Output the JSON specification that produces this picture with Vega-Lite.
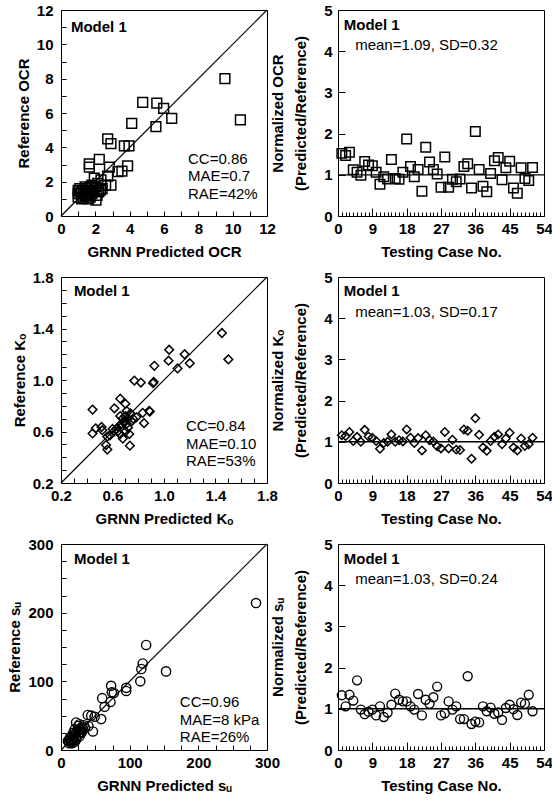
{
  "$schema": "https://vega.github.io/schema/vega-lite/v6.json",
  "padding": {"left": 7, "top": 2, "right": 0, "bottom": 5},
  "background": "white",
  "columns": 2,
  "spacing": {"row": 61, "column": 71},
  "bounds": "flush",
  "datasets": {
    "ocr": [
      {"pred": 9.55, "ref": 8.0}, {"pred": 10.45, "ref": 5.6}, {"pred": 4.76, "ref": 6.62}, {"pred": 5.58, "ref": 6.58},
      {"pred": 5.98, "ref": 6.27}, {"pred": 6.45, "ref": 5.69}, {"pred": 4.12, "ref": 5.4}, {"pred": 5.53, "ref": 5.2},
      {"pred": 2.72, "ref": 4.49}, {"pred": 2.91, "ref": 4.22}, {"pred": 3.69, "ref": 4.08}, {"pred": 3.96, "ref": 4.08},
      {"pred": 2.23, "ref": 3.3}, {"pred": 1.65, "ref": 3.03}, {"pred": 1.65, "ref": 2.84}, {"pred": 2.82, "ref": 2.84},
      {"pred": 3.88, "ref": 2.92}, {"pred": 3.32, "ref": 2.58}, {"pred": 3.55, "ref": 2.62}, {"pred": 2.72, "ref": 2.33},
      {"pred": 2.91, "ref": 1.8}, {"pred": 1.94, "ref": 2.2}, {"pred": 2.33, "ref": 2.1}, {"pred": 2.14, "ref": 1.9},
      {"pred": 2.04, "ref": 0.93}, {"pred": 1.0, "ref": 1.5}, {"pred": 1.1, "ref": 1.3}, {"pred": 1.0, "ref": 1.1},
      {"pred": 1.2, "ref": 1.0}, {"pred": 1.3, "ref": 1.5}, {"pred": 1.4, "ref": 1.2}, {"pred": 1.5, "ref": 1.6},
      {"pred": 1.6, "ref": 1.4}, {"pred": 1.7, "ref": 1.7}, {"pred": 1.8, "ref": 1.3}, {"pred": 1.9, "ref": 1.5},
      {"pred": 2.0, "ref": 1.7}, {"pred": 2.2, "ref": 1.4}, {"pred": 2.4, "ref": 1.6}, {"pred": 1.1, "ref": 1.6},
      {"pred": 1.3, "ref": 1.1}, {"pred": 1.5, "ref": 1.2}, {"pred": 1.8, "ref": 1.8}, {"pred": 2.6, "ref": 1.8},
      {"pred": 1.2, "ref": 1.4}, {"pred": 1.7, "ref": 1.1}, {"pred": 2.1, "ref": 1.2}, {"pred": 2.3, "ref": 1.5},
      {"pred": 1.4, "ref": 1.7}, {"pred": 1.0, "ref": 1.3}, {"pred": 1.6, "ref": 1.0}
    ],
    "ocrN": [
      {"case": 1, "norm": 1.52}, {"case": 2, "norm": 1.47}, {"case": 3, "norm": 1.55}, {"case": 4, "norm": 1.12},
      {"case": 5, "norm": 1.06}, {"case": 6, "norm": 0.99}, {"case": 7, "norm": 1.32}, {"case": 8, "norm": 1.24},
      {"case": 9, "norm": 1.22}, {"case": 10, "norm": 1.06}, {"case": 11, "norm": 0.77}, {"case": 12, "norm": 0.95},
      {"case": 13, "norm": 0.9}, {"case": 14, "norm": 1.37}, {"case": 15, "norm": 0.91}, {"case": 16, "norm": 0.89},
      {"case": 17, "norm": 1.06}, {"case": 18, "norm": 1.87}, {"case": 19, "norm": 1.2}, {"case": 20, "norm": 0.95},
      {"case": 21, "norm": 1.13}, {"case": 22, "norm": 0.6}, {"case": 23, "norm": 1.67}, {"case": 24, "norm": 1.31},
      {"case": 25, "norm": 1.13}, {"case": 26, "norm": 1.02}, {"case": 27, "norm": 0.7}, {"case": 28, "norm": 1.43},
      {"case": 29, "norm": 0.7}, {"case": 30, "norm": 0.89}, {"case": 31, "norm": 0.83}, {"case": 32, "norm": 0.9},
      {"case": 33, "norm": 1.2}, {"case": 34, "norm": 1.27}, {"case": 35, "norm": 0.68}, {"case": 36, "norm": 2.05},
      {"case": 37, "norm": 1.13}, {"case": 38, "norm": 0.72}, {"case": 39, "norm": 0.59}, {"case": 40, "norm": 1.03},
      {"case": 41, "norm": 1.34}, {"case": 42, "norm": 1.42}, {"case": 43, "norm": 0.88}, {"case": 44, "norm": 1.17},
      {"case": 45, "norm": 1.33}, {"case": 46, "norm": 0.68}, {"case": 47, "norm": 0.55}, {"case": 48, "norm": 1.17},
      {"case": 49, "norm": 0.91}, {"case": 50, "norm": 0.86}, {"case": 51, "norm": 1.18}
    ],
    "ko": [
      {"pred": 1.45, "ref": 1.365}, {"pred": 1.5, "ref": 1.16}, {"pred": 1.04, "ref": 1.235}, {"pred": 1.035, "ref": 1.15},
      {"pred": 1.16, "ref": 1.2}, {"pred": 1.105, "ref": 1.09}, {"pred": 1.2, "ref": 1.13}, {"pred": 0.925, "ref": 1.11},
      {"pred": 0.915, "ref": 0.975}, {"pred": 0.92, "ref": 0.985}, {"pred": 0.77, "ref": 0.995}, {"pred": 0.82, "ref": 0.98},
      {"pred": 0.66, "ref": 0.855}, {"pred": 0.7, "ref": 0.815}, {"pred": 0.615, "ref": 0.78}, {"pred": 0.445, "ref": 0.77},
      {"pred": 0.885, "ref": 0.76}, {"pred": 0.89, "ref": 0.755}, {"pred": 0.835, "ref": 0.745}, {"pred": 0.71, "ref": 0.76},
      {"pred": 0.845, "ref": 0.665}, {"pred": 0.785, "ref": 0.71}, {"pred": 0.47, "ref": 0.625}, {"pred": 0.515, "ref": 0.635},
      {"pred": 0.445, "ref": 0.585}, {"pred": 0.56, "ref": 0.56}, {"pred": 0.55, "ref": 0.495}, {"pred": 0.56, "ref": 0.46},
      {"pred": 0.735, "ref": 0.49}, {"pred": 0.68, "ref": 0.545}, {"pred": 0.61, "ref": 0.6}, {"pred": 0.63, "ref": 0.62},
      {"pred": 0.65, "ref": 0.64}, {"pred": 0.67, "ref": 0.66}, {"pred": 0.69, "ref": 0.68}, {"pred": 0.7, "ref": 0.72},
      {"pred": 0.72, "ref": 0.7}, {"pred": 0.74, "ref": 0.74}, {"pred": 0.76, "ref": 0.7}, {"pred": 0.66, "ref": 0.58},
      {"pred": 0.7, "ref": 0.6}, {"pred": 0.72, "ref": 0.63}, {"pred": 0.68, "ref": 0.7}, {"pred": 0.64, "ref": 0.6},
      {"pred": 0.75, "ref": 0.68}, {"pred": 0.6, "ref": 0.62}, {"pred": 0.71, "ref": 0.66}, {"pred": 0.73, "ref": 0.58},
      {"pred": 0.66, "ref": 0.72}, {"pred": 0.52, "ref": 0.61}, {"pred": 0.58, "ref": 0.57}
    ],
    "koN": [
      {"case": 1, "norm": 1.16}, {"case": 2, "norm": 1.14}, {"case": 3, "norm": 1.24}, {"case": 4, "norm": 1.02},
      {"case": 5, "norm": 1.12}, {"case": 6, "norm": 1.0}, {"case": 7, "norm": 1.29}, {"case": 8, "norm": 1.13},
      {"case": 9, "norm": 1.1}, {"case": 10, "norm": 1.02}, {"case": 11, "norm": 0.83}, {"case": 12, "norm": 0.97},
      {"case": 13, "norm": 1.0}, {"case": 14, "norm": 1.18}, {"case": 15, "norm": 1.0}, {"case": 16, "norm": 1.04},
      {"case": 17, "norm": 1.01}, {"case": 18, "norm": 1.3}, {"case": 19, "norm": 1.1}, {"case": 20, "norm": 0.97},
      {"case": 21, "norm": 1.09}, {"case": 22, "norm": 0.79}, {"case": 23, "norm": 1.16}, {"case": 24, "norm": 1.04},
      {"case": 25, "norm": 1.01}, {"case": 26, "norm": 0.89}, {"case": 27, "norm": 0.84}, {"case": 28, "norm": 1.24},
      {"case": 29, "norm": 0.84}, {"case": 30, "norm": 1.05}, {"case": 31, "norm": 0.81}, {"case": 32, "norm": 0.8},
      {"case": 33, "norm": 1.3}, {"case": 34, "norm": 1.27}, {"case": 35, "norm": 0.59}, {"case": 36, "norm": 1.57},
      {"case": 37, "norm": 1.17}, {"case": 38, "norm": 0.86}, {"case": 39, "norm": 0.78}, {"case": 40, "norm": 1.02},
      {"case": 41, "norm": 1.12}, {"case": 42, "norm": 1.18}, {"case": 43, "norm": 0.94}, {"case": 44, "norm": 1.08},
      {"case": 45, "norm": 1.22}, {"case": 46, "norm": 0.86}, {"case": 47, "norm": 0.79}, {"case": 48, "norm": 1.08},
      {"case": 49, "norm": 0.9}, {"case": 50, "norm": 0.94}, {"case": 51, "norm": 1.1}
    ],
    "su": [
      {"pred": 284, "ref": 214}, {"pred": 124, "ref": 153}, {"pred": 119, "ref": 126}, {"pred": 117, "ref": 118},
      {"pred": 115.5, "ref": 100}, {"pred": 153, "ref": 114.5}, {"pred": 95, "ref": 90.5}, {"pred": 95, "ref": 86},
      {"pred": 73, "ref": 93.5}, {"pred": 74, "ref": 84}, {"pred": 77, "ref": 83}, {"pred": 72, "ref": 70},
      {"pred": 60, "ref": 75.5}, {"pred": 63.5, "ref": 63}, {"pred": 58.5, "ref": 45}, {"pred": 46.5, "ref": 27},
      {"pred": 39, "ref": 51}, {"pred": 44, "ref": 50}, {"pred": 49, "ref": 48.5}, {"pred": 22, "ref": 40},
      {"pred": 27, "ref": 37.5}, {"pred": 25, "ref": 35}, {"pred": 30, "ref": 33}, {"pred": 20, "ref": 30},
      {"pred": 18, "ref": 25}, {"pred": 15, "ref": 20}, {"pred": 12, "ref": 15}, {"pred": 14, "ref": 12},
      {"pred": 18, "ref": 14}, {"pred": 22, "ref": 18}, {"pred": 25, "ref": 22}, {"pred": 28, "ref": 26},
      {"pred": 32, "ref": 30}, {"pred": 16, "ref": 10}, {"pred": 20, "ref": 12}, {"pred": 10, "ref": 13},
      {"pred": 24, "ref": 28}, {"pred": 35, "ref": 32}, {"pred": 27, "ref": 20}, {"pred": 13, "ref": 18},
      {"pred": 19, "ref": 21}, {"pred": 30, "ref": 25}, {"pred": 22, "ref": 15}, {"pred": 17, "ref": 16},
      {"pred": 26, "ref": 30}, {"pred": 33, "ref": 36}, {"pred": 12, "ref": 10}, {"pred": 21, "ref": 24},
      {"pred": 29, "ref": 29}, {"pred": 40, "ref": 35}, {"pred": 15, "ref": 14}
    ],
    "suN": [
      {"case": 1, "norm": 1.33}, {"case": 2, "norm": 1.06}, {"case": 3, "norm": 1.34}, {"case": 4, "norm": 1.2},
      {"case": 5, "norm": 1.69}, {"case": 6, "norm": 0.98}, {"case": 7, "norm": 0.87}, {"case": 8, "norm": 0.93},
      {"case": 9, "norm": 0.98}, {"case": 10, "norm": 0.84}, {"case": 11, "norm": 1.06}, {"case": 12, "norm": 0.8},
      {"case": 13, "norm": 0.91}, {"case": 14, "norm": 1.1}, {"case": 15, "norm": 1.37}, {"case": 16, "norm": 1.22},
      {"case": 17, "norm": 1.18}, {"case": 18, "norm": 1.18}, {"case": 19, "norm": 1.06}, {"case": 20, "norm": 0.98},
      {"case": 21, "norm": 1.36}, {"case": 22, "norm": 0.84}, {"case": 23, "norm": 1.22}, {"case": 24, "norm": 1.12},
      {"case": 25, "norm": 1.28}, {"case": 26, "norm": 1.54}, {"case": 27, "norm": 0.84}, {"case": 28, "norm": 0.89},
      {"case": 29, "norm": 1.18}, {"case": 30, "norm": 0.98}, {"case": 31, "norm": 1.06}, {"case": 32, "norm": 0.75},
      {"case": 33, "norm": 0.75}, {"case": 34, "norm": 1.79}, {"case": 35, "norm": 0.63}, {"case": 36, "norm": 0.69},
      {"case": 37, "norm": 0.67}, {"case": 38, "norm": 1.06}, {"case": 39, "norm": 0.94}, {"case": 40, "norm": 1.03},
      {"case": 41, "norm": 0.88}, {"case": 42, "norm": 0.91}, {"case": 43, "norm": 0.73}, {"case": 44, "norm": 1.02},
      {"case": 45, "norm": 1.1}, {"case": 46, "norm": 0.99}, {"case": 47, "norm": 0.85}, {"case": 48, "norm": 1.15},
      {"case": 49, "norm": 1.12}, {"case": 50, "norm": 1.34}, {"case": 51, "norm": 0.94}
    ]
  },
  "concat": [
    {
      "width": 206, "height": 206,
      "resolve": {"axis": {"x": "independent", "y": "independent"}},
      "layer": [
        {"data": {"name": "ocr"}, "mark": {"type": "point", "shape": "square", "filled": false, "stroke": "black", "strokeWidth": 1.5, "size": 95, "opacity": 1},
         "encoding": {
           "x": {"field": "pred", "type": "quantitative", "scale": {"domain": [0, 12], "nice": false, "zero": false},
                 "axis": {"orient": "bottom", "title": "GRNN Predicted OCR", "values": [0,1,2,3,4,5,6,7,8,9,10,11,12], "labelExpr": "datum.value % 2 == 0 ? datum.label : ''", "offset": -5, "tickSize": 5, "labelPadding": 5}},
           "y": {"field": "ref", "type": "quantitative", "scale": {"domain": [0, 12], "nice": false, "zero": false},
                 "axis": {"orient": "left", "title": "Reference OCR", "values": [0,1,2,3,4,5,6,7,8,9,10,11,12], "labelExpr": "datum.value % 2 == 0 ? datum.label : ''", "offset": -5, "tickSize": 5, "labelPadding": 8}}
         }},
        {"data": {"values": [{"pred": 0, "ref": 0}, {"pred": 12, "ref": 12}]}, "mark": {"type": "line", "color": "black", "strokeWidth": 1.2},
         "encoding": {"x": {"field": "pred", "type": "quantitative", "axis": null}, "y": {"field": "ref", "type": "quantitative", "axis": null}}},
        {"data": {"values": [{"t": "Model 1"}]}, "mark": {"type": "text", "align": "left", "baseline": "middle", "fontWeight": "bold", "fontSize": 15, "color": "black"},
         "encoding": {"text": {"field": "t"}, "x": {"datum": 0.58, "axis": null}, "y": {"datum": 11.0, "axis": null}}},
        {"data": {"values": [{"t": "CC=0.86"}]}, "mark": {"type": "text", "align": "left", "baseline": "middle", "fontSize": 15, "color": "black"},
         "encoding": {"text": {"field": "t"}, "x": {"datum": 7.4, "axis": null}, "y": {"datum": 3.32, "axis": null}}},
        {"data": {"values": [{"t": "MAE=0.7"}]}, "mark": {"type": "text", "align": "left", "baseline": "middle", "fontSize": 15, "color": "black"},
         "encoding": {"text": {"field": "t"}, "x": {"datum": 7.4, "axis": null}, "y": {"datum": 2.33, "axis": null}}},
        {"data": {"values": [{"t": "RAE=42%"}]}, "mark": {"type": "text", "align": "left", "baseline": "middle", "fontSize": 15, "color": "black"},
         "encoding": {"text": {"field": "t"}, "x": {"datum": 7.4, "axis": null}, "y": {"datum": 1.3, "axis": null}}}
      ]
    },
    {
      "width": 206, "height": 206,
      "resolve": {"axis": {"x": "independent", "y": "independent"}},
      "layer": [
        {"data": {"name": "ocrN"}, "mark": {"type": "point", "shape": "square", "filled": false, "stroke": "black", "strokeWidth": 1.5, "size": 90, "opacity": 1},
         "encoding": {
           "x": {"field": "case", "type": "quantitative", "scale": {"domain": [0, 54], "nice": false, "zero": false},
                 "axis": {"orient": "bottom", "title": "Testing Case No.", "values": [0,1,2,3,4,5,6,7,8,9,10,11,12,13,14,15,16,17,18,19,20,21,22,23,24,25,26,27,28,29,30,31,32,33,34,35,36,37,38,39,40,41,42,43,44,45,46,47,48,49,50,51,52,53,54], "labelExpr": "datum.value % 9 == 0 ? datum.label : ''", "offset": -4, "tickSize": 4, "labelPadding": 5}},
           "y": {"field": "norm", "type": "quantitative", "scale": {"domain": [0, 5], "nice": false, "zero": false},
                 "axis": {"orient": "left", "title": ["Normalized OCR", "(Predicted/Reference)"], "titleLineHeight": 23, "titlePadding": 15, "values": [0,1,2,3,4,5], "offset": -7, "tickSize": 7, "labelPadding": 6}}
         }},
        {"data": {"values": [{"case": 0, "norm": 1}, {"case": 54, "norm": 1}]}, "mark": {"type": "line", "color": "black", "strokeWidth": 1.2},
         "encoding": {"x": {"field": "case", "type": "quantitative", "axis": {"orient": "bottom", "values": [0,9,18,27,36,45,54], "labels": false, "title": null, "offset": -8, "tickSize": 8}},
                      "y": {"field": "norm", "type": "quantitative", "axis": null}}},
        {"data": {"values": [{"t": "Model 1"}]}, "mark": {"type": "text", "align": "left", "baseline": "middle", "fontWeight": "bold", "fontSize": 15, "color": "black"},
         "encoding": {"text": {"field": "t"}, "x": {"datum": 1.5, "axis": null}, "y": {"datum": 4.64, "axis": null}}},
        {"data": {"values": [{"t": "mean=1.09, SD=0.32"}]}, "mark": {"type": "text", "align": "left", "baseline": "middle", "fontSize": 15, "color": "black"},
         "encoding": {"text": {"field": "t"}, "x": {"datum": 4.5, "axis": null}, "y": {"datum": 4.15, "axis": null}}}
      ]
    },
    {
      "width": 206, "height": 206,
      "resolve": {"axis": {"x": "independent", "y": "independent"}},
      "layer": [
        {"data": {"name": "ko"}, "mark": {"type": "point", "shape": "diamond", "filled": false, "stroke": "black", "strokeWidth": 1.5, "size": 75, "opacity": 1},
         "encoding": {
           "x": {"field": "pred", "type": "quantitative", "scale": {"domain": [0.2, 1.8], "nice": false, "zero": false},
                 "axis": {"orient": "bottom", "title": "GRNN Predicted Kₒ", "values": [0.2,0.3,0.4,0.5,0.6,0.7,0.8,0.9,1.0,1.1,1.2,1.3,1.4,1.5,1.6,1.7,1.8], "labelExpr": "(round(datum.value*10) - 2) % 4 == 0 ? format(datum.value, '.1f') : ''", "offset": -5, "tickSize": 5, "labelPadding": 5}},
           "y": {"field": "ref", "type": "quantitative", "scale": {"domain": [0.2, 1.8], "nice": false, "zero": false},
                 "axis": {"orient": "left", "title": "Reference Kₒ", "values": [0.2,0.3,0.4,0.5,0.6,0.7,0.8,0.9,1.0,1.1,1.2,1.3,1.4,1.5,1.6,1.7,1.8], "labelExpr": "(round(datum.value*10) - 2) % 4 == 0 ? format(datum.value, '.1f') : ''", "offset": -5, "tickSize": 5, "labelPadding": 8}}
         }},
        {"data": {"values": [{"pred": 0.2, "ref": 0.2}, {"pred": 1.8, "ref": 1.8}]}, "mark": {"type": "line", "color": "black", "strokeWidth": 1.2},
         "encoding": {"x": {"field": "pred", "type": "quantitative", "axis": null}, "y": {"field": "ref", "type": "quantitative", "axis": null}}},
        {"data": {"values": [{"t": "Model 1"}]}, "mark": {"type": "text", "align": "left", "baseline": "middle", "fontWeight": "bold", "fontSize": 15, "color": "black"},
         "encoding": {"text": {"field": "t"}, "x": {"datum": 0.3, "axis": null}, "y": {"datum": 1.688, "axis": null}}},
        {"data": {"values": [{"t": "CC=0.84"}]}, "mark": {"type": "text", "align": "left", "baseline": "middle", "fontSize": 15, "color": "black"},
         "encoding": {"text": {"field": "t"}, "x": {"datum": 1.17, "axis": null}, "y": {"datum": 0.64, "axis": null}}},
        {"data": {"values": [{"t": "MAE=0.10"}]}, "mark": {"type": "text", "align": "left", "baseline": "middle", "fontSize": 15, "color": "black"},
         "encoding": {"text": {"field": "t"}, "x": {"datum": 1.17, "axis": null}, "y": {"datum": 0.506, "axis": null}}},
        {"data": {"values": [{"t": "RAE=53%"}]}, "mark": {"type": "text", "align": "left", "baseline": "middle", "fontSize": 15, "color": "black"},
         "encoding": {"text": {"field": "t"}, "x": {"datum": 1.17, "axis": null}, "y": {"datum": 0.373, "axis": null}}}
      ]
    },
    {
      "width": 206, "height": 206,
      "resolve": {"axis": {"x": "independent", "y": "independent"}},
      "layer": [
        {"data": {"name": "koN"}, "mark": {"type": "point", "shape": "diamond", "filled": false, "stroke": "black", "strokeWidth": 1.5, "size": 70, "opacity": 1},
         "encoding": {
           "x": {"field": "case", "type": "quantitative", "scale": {"domain": [0, 54], "nice": false, "zero": false},
                 "axis": {"orient": "bottom", "title": "Testing Case No.", "values": [0,1,2,3,4,5,6,7,8,9,10,11,12,13,14,15,16,17,18,19,20,21,22,23,24,25,26,27,28,29,30,31,32,33,34,35,36,37,38,39,40,41,42,43,44,45,46,47,48,49,50,51,52,53,54], "labelExpr": "datum.value % 9 == 0 ? datum.label : ''", "offset": -4, "tickSize": 4, "labelPadding": 5}},
           "y": {"field": "norm", "type": "quantitative", "scale": {"domain": [0, 5], "nice": false, "zero": false},
                 "axis": {"orient": "left", "title": ["Normalized Kₒ", "(Predicted/Reference)"], "titleLineHeight": 23, "titlePadding": 15, "values": [0,1,2,3,4,5], "offset": -7, "tickSize": 7, "labelPadding": 6}}
         }},
        {"data": {"values": [{"case": 0, "norm": 1}, {"case": 54, "norm": 1}]}, "mark": {"type": "line", "color": "black", "strokeWidth": 1.6},
         "encoding": {"x": {"field": "case", "type": "quantitative", "axis": {"orient": "bottom", "values": [0,9,18,27,36,45,54], "labels": false, "title": null, "offset": -8, "tickSize": 8}},
                      "y": {"field": "norm", "type": "quantitative", "axis": null}}},
        {"data": {"values": [{"t": "Model 1"}]}, "mark": {"type": "text", "align": "left", "baseline": "middle", "fontWeight": "bold", "fontSize": 15, "color": "black"},
         "encoding": {"text": {"field": "t"}, "x": {"datum": 1.5, "axis": null}, "y": {"datum": 4.65, "axis": null}}},
        {"data": {"values": [{"t": "mean=1.03, SD=0.17"}]}, "mark": {"type": "text", "align": "left", "baseline": "middle", "fontSize": 15, "color": "black"},
         "encoding": {"text": {"field": "t"}, "x": {"datum": 4.5, "axis": null}, "y": {"datum": 4.16, "axis": null}}}
      ]
    },
    {
      "width": 206, "height": 206,
      "resolve": {"axis": {"x": "independent", "y": "independent"}},
      "layer": [
        {"data": {"name": "su"}, "mark": {"type": "point", "shape": "circle", "filled": false, "stroke": "black", "strokeWidth": 1.4, "size": 85, "opacity": 1},
         "encoding": {
           "x": {"field": "pred", "type": "quantitative", "scale": {"domain": [0, 300], "nice": false, "zero": false},
                 "axis": {"orient": "bottom", "title": "GRNN Predicted sᵤ", "values": [0,25,50,75,100,125,150,175,200,225,250,275,300], "labelExpr": "datum.value % 100 == 0 ? datum.label : ''", "offset": -5, "tickSize": 5, "labelPadding": 5}},
           "y": {"field": "ref", "type": "quantitative", "scale": {"domain": [0, 300], "nice": false, "zero": false},
                 "axis": {"orient": "left", "title": "Reference sᵤ", "values": [0,25,50,75,100,125,150,175,200,225,250,275,300], "labelExpr": "datum.value % 100 == 0 ? datum.label : ''", "offset": -5, "tickSize": 5, "labelPadding": 8}}
         }},
        {"data": {"values": [{"pred": 0, "ref": 0}, {"pred": 300, "ref": 300}]}, "mark": {"type": "line", "color": "black", "strokeWidth": 1.2},
         "encoding": {"x": {"field": "pred", "type": "quantitative", "axis": null}, "y": {"field": "ref", "type": "quantitative", "axis": null}}},
        {"data": {"values": [{"t": "Model 1"}]}, "mark": {"type": "text", "align": "left", "baseline": "middle", "fontWeight": "bold", "fontSize": 15, "color": "black"},
         "encoding": {"text": {"field": "t"}, "x": {"datum": 19, "axis": null}, "y": {"datum": 278, "axis": null}}},
        {"data": {"values": [{"t": "CC=0.96"}]}, "mark": {"type": "text", "align": "left", "baseline": "middle", "fontSize": 15, "color": "black"},
         "encoding": {"text": {"field": "t"}, "x": {"datum": 173, "axis": null}, "y": {"datum": 69.3, "axis": null}}},
        {"data": {"values": [{"t": "MAE=8 kPa"}]}, "mark": {"type": "text", "align": "left", "baseline": "middle", "fontSize": 15, "color": "black"},
         "encoding": {"text": {"field": "t"}, "x": {"datum": 173, "axis": null}, "y": {"datum": 43.7, "axis": null}}},
        {"data": {"values": [{"t": "RAE=26%"}]}, "mark": {"type": "text", "align": "left", "baseline": "middle", "fontSize": 15, "color": "black"},
         "encoding": {"text": {"field": "t"}, "x": {"datum": 173, "axis": null}, "y": {"datum": 18.3, "axis": null}}}
      ]
    },
    {
      "width": 206, "height": 206,
      "resolve": {"axis": {"x": "independent", "y": "independent"}},
      "layer": [
        {"data": {"name": "suN"}, "mark": {"type": "point", "shape": "circle", "filled": false, "stroke": "black", "strokeWidth": 1.4, "size": 80, "opacity": 1},
         "encoding": {
           "x": {"field": "case", "type": "quantitative", "scale": {"domain": [0, 54], "nice": false, "zero": false},
                 "axis": {"orient": "bottom", "title": "Testing Case No.", "values": [0,1,2,3,4,5,6,7,8,9,10,11,12,13,14,15,16,17,18,19,20,21,22,23,24,25,26,27,28,29,30,31,32,33,34,35,36,37,38,39,40,41,42,43,44,45,46,47,48,49,50,51,52,53,54], "labelExpr": "datum.value % 9 == 0 ? datum.label : ''", "offset": -4, "tickSize": 4, "labelPadding": 5}},
           "y": {"field": "norm", "type": "quantitative", "scale": {"domain": [0, 5], "nice": false, "zero": false},
                 "axis": {"orient": "left", "title": ["Normalized sᵤ", "(Predicted/Reference)"], "titleLineHeight": 23, "titlePadding": 15, "values": [0,1,2,3,4,5], "offset": -7, "tickSize": 7, "labelPadding": 6}}
         }},
        {"data": {"values": [{"case": 0, "norm": 1}, {"case": 54, "norm": 1}]}, "mark": {"type": "line", "color": "black", "strokeWidth": 1.6},
         "encoding": {"x": {"field": "case", "type": "quantitative", "axis": {"orient": "bottom", "values": [0,9,18,27,36,45,54], "labels": false, "title": null, "offset": -8, "tickSize": 8}},
                      "y": {"field": "norm", "type": "quantitative", "axis": null}}},
        {"data": {"values": [{"t": "Model 1"}]}, "mark": {"type": "text", "align": "left", "baseline": "middle", "fontWeight": "bold", "fontSize": 15, "color": "black"},
         "encoding": {"text": {"field": "t"}, "x": {"datum": 1.5, "axis": null}, "y": {"datum": 4.63, "axis": null}}},
        {"data": {"values": [{"t": "mean=1.03, SD=0.24"}]}, "mark": {"type": "text", "align": "left", "baseline": "middle", "fontSize": 15, "color": "black"},
         "encoding": {"text": {"field": "t"}, "x": {"datum": 4.5, "axis": null}, "y": {"datum": 4.15, "axis": null}}}
      ]
    }
  ],
  "config": {
    "font": "Liberation Sans",
    "view": {"stroke": "black", "strokeWidth": 1},
    "axis": {
      "domain": false, "grid": false, "ticks": true, "tickOpacity": 1, "zindex": 1,
      "labelFont": "Liberation Sans", "labelFontSize": 15, "labelFontWeight": "bold", "labelColor": "black",
      "titleFont": "Liberation Sans", "titleFontSize": 15, "titleFontWeight": "bold", "titleColor": "black",
      "tickColor": "black", "tickWidth": 1, "labelFlush": false, "labelOverlap": false, "minExtent": 0
    },
    "axisX": {"titlePadding": 8},
    "axisY": {"titlePadding": 5}
  }
}
